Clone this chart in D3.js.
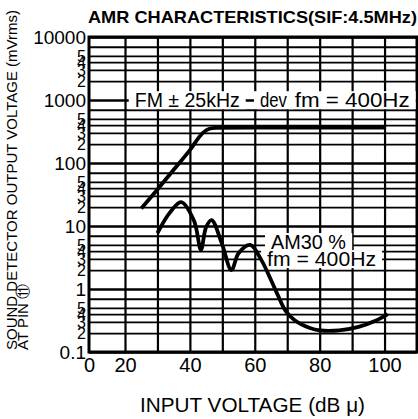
<!DOCTYPE html>
<html>
<head>
<meta charset="utf-8">
<script src="https://cdn.jsdelivr.net/npm/d3@7"></script>
<style>
  body { margin: 0; background: #fff; }
  svg { display: block; font-family: "Liberation Sans", Arial, sans-serif; }
</style>
</head>
<body>
<div class="chart"></div>
<script>
// axis ticks
var xTicks = [0, 20, 40, 60, 80, 100];
var xGrid = [20, 30, 40, 50, 60, 70, 80, 90, 100];
var yMajor = [0.1, 1, 10, 100, 1000, 10000];
var yMajorLabels = ["0.1", "1", "10", "100", "1000", "10000"];
var yMinorDigits = [2, 3, 4, 5];
var yExtraGrid = [7];

// FM ±25kHz dev, fm = 400Hz
var fmInput = [25, 30, 35, 40, 44, 46, 48, 60, 80, 100];
var fmOutput = [19, 38, 78, 160, 300, 350, 362, 365, 365, 365];

// AM 30%, fm = 400Hz
var amInput = [30, 33.7, 37.3, 41.3, 43.4, 45, 46.7, 49.8, 52.8, 55, 58.6, 62, 65, 67.1, 69.5, 72.3, 77, 80, 86, 92, 97, 101];
var amOutput = [7.7, 16, 24, 12, 4.2, 9.6, 12.4, 5.4, 2.0, 3.7, 5.0, 2.9, 1.39, 0.8, 0.45, 0.32, 0.24, 0.22, 0.22, 0.25, 0.31, 0.40];

var width = 418;
var height = 419;

var x = d3.scaleLinear()
    .domain([0, 20, 110])
    .range([89, 125, 417]);

var y = d3.scaleLog()
    .domain([0.1, 10000])
    .range([352, 37]);

var svg = d3.select(".chart")
    .append("svg")
    .attr("width", width)
    .attr("height", height);

// minor grid values per decade
var yMinor = [];
var yLines = [];
yMajor.slice(0, -1).forEach(function (m) {
    yMinorDigits.forEach(function (d) { yMinor.push(d * m); });
    yMinorDigits.concat(yExtraGrid).forEach(function (d) { yLines.push(d * m); });
});

var plotW = x.range()[2] - x.range()[0];
var plotH = y.range()[0] - y.range()[1];

// horizontal grid
svg.append("g")
    .attr("transform", "translate(" + x(0) + ",0)")
    .call(d3.axisLeft(y).tickValues(yLines).tickSize(-plotW).tickFormat(""))
    .call(function (g) { g.select(".domain").remove(); })
    .selectAll("line")
    .attr("stroke", "#000")
    .attr("stroke-width", 1.8);

svg.append("g")
    .attr("transform", "translate(" + x(0) + ",0)")
    .call(d3.axisLeft(y).tickValues(yMajor).tickSize(-plotW).tickFormat(""))
    .call(function (g) { g.select(".domain").remove(); })
    .selectAll("line")
    .attr("stroke", "#000")
    .attr("stroke-width", 2.6);

// vertical grid
svg.append("g")
    .attr("transform", "translate(0," + y(0.1) + ")")
    .call(d3.axisBottom(x).tickValues(xGrid).tickSize(-plotH).tickFormat(""))
    .call(function (g) { g.select(".domain").remove(); })
    .selectAll("line")
    .attr("stroke", "#000")
    .attr("stroke-width", 2.2);

// frame
svg.append("rect")
    .attr("x", x(0))
    .attr("y", y(10000))
    .attr("width", plotW)
    .attr("height", plotH)
    .attr("fill", "none")
    .attr("stroke", "#000")
    .attr("stroke-width", 3);

// x tick labels
svg.append("g")
    .attr("transform", "translate(0," + y(0.1) + ")")
    .call(d3.axisBottom(x).tickValues(xTicks).tickSize(0).tickPadding(6))
    .call(function (g) { g.select(".domain").remove(); })
    .selectAll("text")
    .attr("font-size", "20px")
    .attr("font-family", "Liberation Sans, Arial, sans-serif")
    .attr("fill", "#000");

// y tick labels (minor digits)
svg.append("g")
    .attr("transform", "translate(" + (x(0) - 3) + ",0)")
    .call(d3.axisLeft(y).tickValues(yMinor).tickSize(0).tickPadding(0)
        .tickFormat(function (d) { return String(Math.round(d / Math.pow(10, Math.floor(Math.log10(d) + 1e-9)))); }))
    .call(function (g) { g.select(".domain").remove(); })
    .selectAll("text")
    .attr("font-size", "16px")
    .attr("font-family", "Liberation Sans, Arial, sans-serif")
    .attr("fill", "#000");

// y tick labels (decades)
svg.append("g")
    .attr("transform", "translate(" + (x(0) - 3) + ",0)")
    .call(d3.axisLeft(y).tickValues(yMajor).tickSize(0).tickPadding(0)
        .tickFormat(function (d, i) { return yMajorLabels[i]; }))
    .call(function (g) { g.select(".domain").remove(); })
    .selectAll("text")
    .attr("font-size", "19px")
    .attr("font-family", "Liberation Sans, Arial, sans-serif")
    .attr("fill", "#000");

// annotations, on white boxes that break the grid
var notes = [
    { text: "FM ± 25kHz", d: 23, v: 1000, len: 105 },
    { text: "dev", d: 61.6, v: 1000, len: 27 },
    { text: "fm = 400Hz", d: 72.3, v: 1000, len: 115 },
    { text: "AM30 %", d: 65, v: 5.6, len: 75 },
    { text: "fm = 400Hz", d: 63.8, v: 3.0, len: 109 }
];

var note = svg.selectAll(".note")
    .data(notes)
    .enter().append("g")
    .attr("class", "note");

note.append("rect")
    .attr("fill", "#fff");

note.append("text")
    .attr("x", function (d) { return x(d.d); })
    .attr("y", function (d) { return y(d.v); })
    .attr("dy", "0.36em")
    .attr("font-size", "20px")
    .attr("textLength", function (d) { return d.len; })
    .attr("lengthAdjust", "spacingAndGlyphs")
    .attr("fill", "#000")
    .text(function (d) { return d.text; });

note.each(function () {
    var b = d3.select(this).select("text").node().getBBox();
    d3.select(this).select("rect")
        .attr("x", b.x - 6)
        .attr("y", b.y + 2)
        .attr("width", b.width + 12)
        .attr("height", b.height - 4);
});

// curves (drawn over the annotation boxes)
var fmLine = d3.line()
    .x(function (d) { return x(d[0]); })
    .y(function (d) { return y(d[1]); })
    .curve(d3.curveMonotoneX);

var amLine = d3.line()
    .x(function (d) { return x(d[0]); })
    .y(function (d) { return y(d[1]); })
    .curve(d3.curveCatmullRom.alpha(0.5));

svg.append("path")
    .datum(d3.zip(fmInput, fmOutput))
    .attr("d", fmLine)
    .attr("fill", "none")
    .attr("stroke", "#000")
    .attr("stroke-width", 3.8);

svg.append("path")
    .datum(d3.zip(amInput, amOutput))
    .attr("d", amLine)
    .attr("fill", "none")
    .attr("stroke", "#000")
    .attr("stroke-width", 3.8)
    .attr("stroke-linejoin", "round");

// title
svg.append("text")
    .attr("x", 88)
    .attr("y", 23)
    .attr("font-size", "17px")
    .attr("font-weight", "bold")
    .attr("textLength", 329)
    .attr("lengthAdjust", "spacingAndGlyphs")
    .text("AMR CHARACTERISTICS(SIF:4.5MHz)");

// axis titles
svg.append("text")
    .attr("transform", "translate(17,350) rotate(-90)")
    .attr("font-size", "15px")
    .attr("textLength", 340)
    .attr("lengthAdjust", "spacingAndGlyphs")
    .text("SOUND DETECTOR OUTPUT VOLTAGE (mVrms)");

svg.append("text")
    .attr("transform", "translate(28,350) rotate(-90)")
    .attr("font-size", "15px")
    .text("AT PIN ⑪");

svg.append("text")
    .attr("x", 140)
    .attr("y", 412)
    .attr("font-size", "20px")
    .attr("textLength", 225)
    .attr("lengthAdjust", "spacingAndGlyphs")
    .text("INPUT VOLTAGE (dB μ)");
</script>
</body>
</html>
